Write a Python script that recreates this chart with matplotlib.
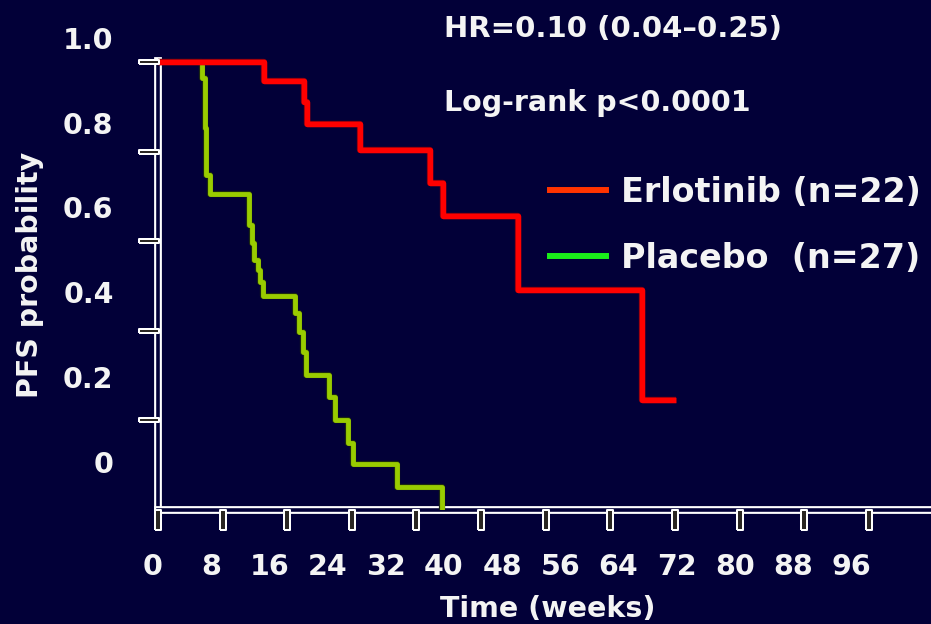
import matplotlib
matplotlib.use("Agg")
import matplotlib.pyplot as plt
import numpy as np
from matplotlib.lines import Line2D
from matplotlib.patheffects import withStroke
from matplotlib.transforms import ScaledTranslation

# Kaplan-Meier steps (weeks, PFS probability)
erlotinib_t = [0, 13.1, 18.1, 18.5, 25.0, 33.7, 35.3, 44.6, 59.9, 64.1]
erlotinib_s = [1.0, 0.958, 0.911, 0.862, 0.804, 0.730, 0.656, 0.491, 0.246, 0.246]

placebo_t = [0, 5.45, 5.76, 5.94, 6.44, 11.3, 11.6, 11.9, 12.35, 12.6, 13.05,
             16.97, 17.5, 17.9, 18.3, 21.2, 21.96, 23.5, 24.1, 29.6, 35.2]
placebo_s = [1.0, 0.964, 0.853, 0.748, 0.706, 0.636, 0.596, 0.558, 0.536, 0.509,
             0.478, 0.440, 0.397, 0.353, 0.301, 0.252, 0.201, 0.150, 0.103,
             0.051, 0.0]

# tick labels as printed on the slide (they do not sit on the tick marks)
x_labels = [0, 8, 16, 24, 32, 40, 48, 56, 64, 72, 80, 88, 96]
y_labels = ["0", "0.2", "0.4", "0.6", "0.8", "1.0"]
x_marks = np.arange(0, 96, 8)
y_marks = [0.2, 0.4, 0.6, 0.8, 1.0]

legend_labels = ["Erlotinib (n=22)", "Placebo  (n=27)"]
hr_text = "HR=0.10 (0.04\u20130.25)"
p_text = "Log-rank p<0.0001"

bg = "#020038"
white = "#f4f4f4"
fs = 20.5

fig = plt.figure(figsize=(9.31, 6.24), dpi=100, facecolor=bg)
# axes box: data x=0 sits at px 158, y=0 at px 510, 8.075 px/week, 448 px/unit
ax = fig.add_axes([152.35 / 931, 114 / 624, 778.65 / 931, 474.9 / 624])
ax.set_facecolor(bg)

ax.plot(placebo_t, placebo_s, drawstyle="steps-post", color="#99cc00", lw=3.5,
        solid_capstyle="butt", zorder=3,
        path_effects=[withStroke(linewidth=4.5, foreground="#1c2a10")])
ax.plot(erlotinib_t, erlotinib_s, drawstyle="steps-post", color="#ff0000", lw=3.9,
        solid_capstyle="butt", zorder=4,
        path_effects=[withStroke(linewidth=4.5, foreground="#8a0010")])

# double-line axes
for side in ["top", "right"]:
    ax.spines[side].set_visible(False)
ax.spines["left"].set_position(("data", 0))
for side in ["left", "bottom"]:
    sp = ax.spines[side]
    sp.set_color(bg)
    sp.set_linewidth(2.6)
    sp.set_path_effects([withStroke(linewidth=5.6, foreground="white")])

# tick labels
lab_font = dict(fontsize=fs, fontweight="bold", color=white)
ax.set_xticks([-0.62 + 0.9005 * v for v in x_labels])
ax.set_xticklabels([str(v) for v in x_labels], **lab_font)
ax.set_yticks([0.107 + 0.947 * float(v) for v in y_labels])
ax.set_yticklabels(y_labels, **lab_font)
ax.tick_params(axis="x", length=0, pad=31)
ax.tick_params(axis="y", length=0, pad=32)
ax.set_xlim(-0.7, 95.7)
ax.set_ylim(0, 1.06)
ax.spines["left"].set_bounds(0, 1.003)
ax.spines["bottom"].set_bounds(0, 95.7)

# boxed tick marks
xrect = [(-3, -9.5), (3, -9.5), (3, 9.5), (-3, 9.5), (-3, -9.5)]
yrect = [(-10.5, -2.5), (10.5, -2.5), (10.5, 2.5), (-10.5, 2.5), (-10.5, -2.5)]
xtr = ax.transData + ScaledTranslation(0, -0.095, fig.dpi_scale_trans)
ytr = ax.transData + ScaledTranslation(-0.095, 0, fig.dpi_scale_trans)
ax.plot(x_marks, np.zeros(len(x_marks)), ls="none", marker=xrect, ms=13.7,
        mfc="#2a2622", mec="white", mew=1.45, transform=xtr, clip_on=False, zorder=6)
ax.plot(np.zeros(len(y_marks)), y_marks, ls="none", marker=yrect, ms=15.1,
        mfc="#2a2622", mec="white", mew=1.45, transform=ytr, clip_on=False, zorder=6)

ax.set_xlabel("Time (weeks)", fontsize=fs, fontweight="bold", color=white, va="top")
ax.xaxis.set_label_coords(0.508, -0.179)
fig.text(30 / 931, 1 - 275 / 624, "PFS probability", rotation=90, ha="center",
         va="center", fontsize=fs, fontweight="bold", color=white)

fig.text(444 / 931, 1 - 29 / 624, hr_text, ha="left", va="center",
         fontsize=21, fontweight="bold", color=white)
fig.text(444 / 931, 1 - 103 / 624, p_text, ha="left", va="center",
         fontsize=fs, fontweight="bold", color=white)

handles = [Line2D([], [], color="#ff3300", lw=4.3),
           Line2D([], [], color="#1aee1a", lw=4.3)]
leg = ax.legend(handles, legend_labels, loc="upper left",
                bbox_to_anchor=(550 / 931, 1 - 176 / 624),
                bbox_transform=fig.transFigure, frameon=False, borderpad=0,
                borderaxespad=0, handlelength=1.68, handletextpad=0.45,
                labelspacing=0.98, prop=dict(size=24, weight="bold"))
for t in leg.get_texts():
    t.set_color(white)

fig.savefig("out.png", dpi=100, facecolor=bg)
